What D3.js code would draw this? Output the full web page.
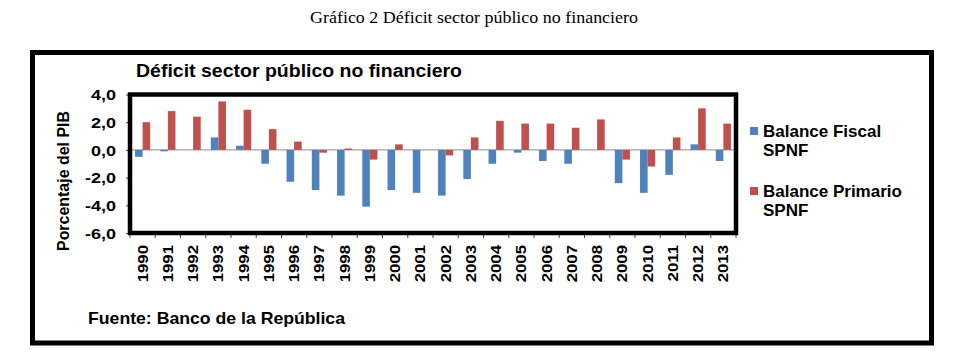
<!DOCTYPE html>
<html>
<head>
<meta charset="utf-8">
<script src="https://cdnjs.cloudflare.com/ajax/libs/d3/7.8.5/d3.min.js"></script>
<style>
  body { margin: 0; background: #fff; }
  text { font-family: Arial, "Liberation Sans", sans-serif; font-weight: bold; fill: #000; }
</style>
</head>
<body>
<div id="chart"></div>
<script>
// data
var years = ["1990","1991","1992","1993","1994","1995","1996","1997","1998","1999","2000","2001",
             "2002","2003","2004","2005","2006","2007","2008","2009","2010","2011","2012","2013"];
var balanceFiscal = [-0.5,-0.1,0.0,0.9,0.3,-1.0,-2.3,-2.9,-3.3,-4.1,-2.9,-3.1,
                     -3.3,-2.1,-1.0,-0.2,-0.8,-1.0,0.0,-2.4,-3.1,-1.8,0.4,-0.8];
var balancePrimario = [2.0,2.8,2.4,3.5,2.9,1.5,0.6,-0.2,0.1,-0.7,0.4,0.0,
                       -0.4,0.9,2.1,1.9,1.9,1.6,2.2,-0.7,-1.2,0.9,3.0,1.9];
var yTicks = [4,2,0,-2,-4,-6];
var seriesNames = [["Balance Fiscal","SPNF"],["Balance Primario","SPNF"]];
var colors = ["#4F81BD","#C0504D"];

var W = 962, H = 362;
var svg = d3.select('#chart').append('svg').attr('width', W).attr('height', H);

// caption above the chart
svg.append('text').attr('x', 474).attr('y', 23).attr('text-anchor', 'middle')
   .style('font-family', '"Liberation Serif", "Times New Roman", serif').style('font-weight', 'normal')
   .style('font-size', '17px').attr('textLength', 328).attr('lengthAdjust', 'spacingAndGlyphs')
   .text('Gráfico 2 Déficit sector público no financiero');

// outer frame
svg.append('rect').attr('x', 32.5).attr('y', 52.5).attr('width', 899).attr('height', 290.5)
   .attr('fill', 'none').attr('stroke', '#000').attr('stroke-width', 5);

svg.append('text').attr('x', 136).attr('y', 77).style('font-size', '18px')
   .attr('textLength', 326).attr('lengthAdjust', 'spacingAndGlyphs')
   .text('Déficit sector público no financiero');

var plot = {left: 130, right: 736, top: 94.5, bottom: 233};

var x = d3.scaleBand().domain(years).range([plot.left, plot.right]).paddingInner(0.4).paddingOuter(0.2);
var xs = d3.scaleBand().domain([0, 1]).range([0, x.bandwidth()]);
var y = d3.scaleLinear().domain([-6, 4]).range([plot.bottom, plot.top]);

// zero line
svg.append('line').attr('x1', plot.left).attr('x2', plot.right).attr('y1', y(0)).attr('y2', y(0))
   .attr('stroke', '#8c8c8c').attr('stroke-width', 1);

[balanceFiscal, balancePrimario].forEach(function(vals, si){
    svg.append('g').selectAll('rect').data(vals).enter().append('rect')
       .attr('x', function(d, i){ return x(years[i]) + xs(si); })
       .attr('width', xs.bandwidth())
       .attr('y', function(d){ return y(Math.max(0, d)); })
       .attr('height', function(d){ return Math.abs(y(d) - y(0)); })
       .attr('fill', colors[si]);
});

// y axis
var yAxis = svg.append('g').attr('transform', 'translate(' + plot.left + ',0)')
   .call(d3.axisLeft(y).tickValues(yTicks).tickSize(4)
   .tickFormat(function(d){ return d.toFixed(1).replace('.', ','); }));
yAxis.select('.domain').remove();
yAxis.selectAll('line').attr('stroke', '#444');
yAxis.selectAll('text').style('font-size', '15px').style('font-family', 'Arial, "Liberation Sans", sans-serif')
   .attr('x', 0).attr('dy', '0.35em')
   .attr('transform', 'translate(-14,0) scale(1.2,1)');

// x axis labels
var xAxis = svg.append('g').attr('transform', 'translate(0,' + plot.bottom + ')');
xAxis.selectAll('line').data(years.concat(['end'])).enter().append('line')
   .attr('x1', function(d, i){ return plot.left + i * (plot.right - plot.left) / years.length; })
   .attr('x2', function(d, i){ return plot.left + i * (plot.right - plot.left) / years.length; })
   .attr('y1', 0).attr('y2', 5).attr('stroke', '#444');
xAxis.selectAll('text').data(years).enter().append('text')
   .attr('transform', function(d){ return 'translate(' + (x(d) + x.bandwidth() / 2 + 5) + ',12) rotate(-90) scale(1.2,1)'; })
   .attr('text-anchor', 'end').style('font-size', '14px')
   .text(function(d){ return d; });

// plot frame
svg.append('rect').attr('x', plot.left).attr('y', plot.top)
   .attr('width', plot.right - plot.left).attr('height', plot.bottom - plot.top)
   .attr('fill', 'none').attr('stroke', '#000').attr('stroke-width', 4.5);

// axis title
svg.append('text').attr('transform', 'translate(69,181) rotate(-90)').attr('text-anchor', 'middle')
   .style('font-size', '16.5px').attr('textLength', 140).attr('lengthAdjust', 'spacingAndGlyphs')
   .text('Porcentaje del PIB');

// legend
var legend = svg.append('g');
[127, 187].forEach(function(ty, i){
    legend.append('rect').attr('x', 750).attr('y', ty).attr('width', 8).attr('height', 8).attr('fill', colors[i]);
    legend.append('text').attr('x', 763).attr('y', ty + 10).style('font-size', '17px').text(seriesNames[i][0]);
    legend.append('text').attr('x', 763).attr('y', ty + 29).style('font-size', '17px').text(seriesNames[i][1]);
});

svg.append('text').attr('x', 88).attr('y', 324).style('font-size', '16.5px')
   .attr('textLength', 257).attr('lengthAdjust', 'spacingAndGlyphs')
   .text('Fuente: Banco de la República');
</script>
</body>
</html>
